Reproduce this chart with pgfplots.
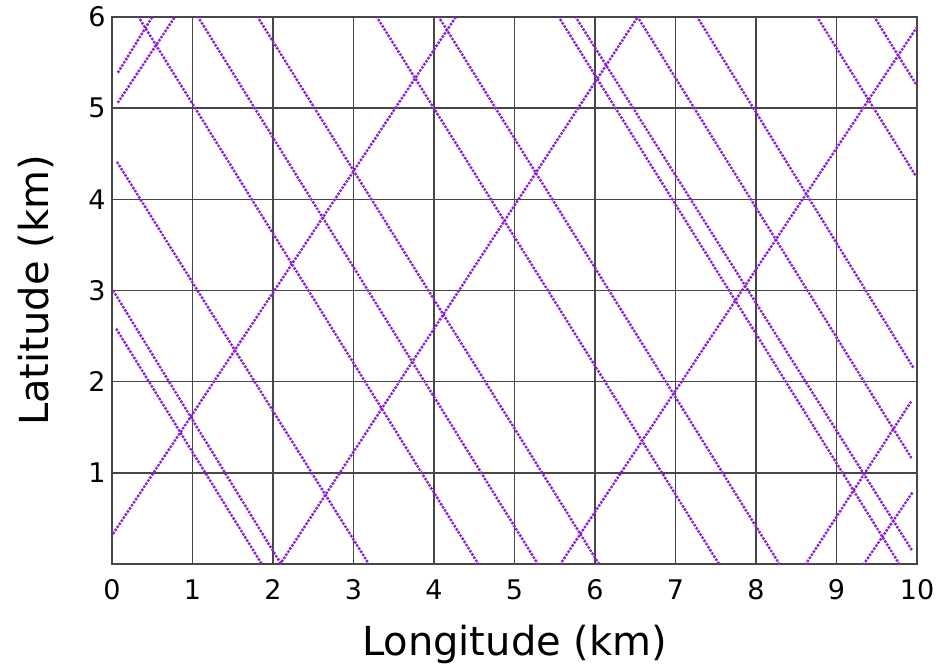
\documentclass[border=0pt]{standalone}
\usepackage{pgfplots}
\pgfplotsset{compat=1.18}
\usepackage{fontspec}
\setmainfont{DejaVu Sans}
\definecolor{track}{RGB}{140,34,212}
\definecolor{gridc}{RGB}{70,70,70}
\begin{document}
\begin{tikzpicture}
\path[use as bounding box] (-112pt,-100pt) rectangle (830pt,564pt);
\begin{axis}[
  at={(0pt,0pt)}, anchor=south west,
  scale only axis, width=805pt, height=547pt,
  xmin=0, xmax=10, ymin=0, ymax=6,
  xtick={0,1,2,3,4,5,6,7,8,9,10},
  ytick={1,2,3,4,5,6},
  grid=major,
  major grid style={gridc, line width=1.6pt},
  axis line style={gridc, line width=1.6pt},
  major tick length=0pt,
  /pgf/number format/assume math mode=true,
  tick label style={font=\fontsize{27}{30}\selectfont},
  xticklabel style={yshift=-12pt},
  yticklabel style={xshift=-3pt},
  xlabel={Longitude (km)},
  ylabel={Latitude (km)},
  label style={font=\fontsize{40}{48}\selectfont},
  xlabel style={at={(axis description cs:0.5,-0.1664)}, anchor=base},
  ylabel style={at={(axis description cs:-0.0795,0.5)}, anchor=base},
  trk/.style={track, line width=3.4pt, line cap=round, dash pattern=on 0pt off 3.7pt},
]
% descending tracks
\addplot[trk] coordinates {(0.07,4.40) (3.19,0)};
\addplot[trk] coordinates {(0.02,2.99) (2.10,0)};
\addplot[trk] coordinates {(0.06,2.57) (1.86,0)};
\addplot[trk] coordinates {(0.33,6) (4.55,0)};
\addplot[trk] coordinates {(1.07,6) (5.29,0)};
\addplot[trk] coordinates {(1.81,6) (6.05,0)};
\addplot[trk] coordinates {(3.29,6) (7.54,0)};
\addplot[trk] coordinates {(4.06,6) (8.29,0)};
\addplot[trk] coordinates {(5.55,6) (9.78,0)};
\addplot[trk] coordinates {(5.76,6) (9.93,0.16)};
\addplot[trk] coordinates {(6.53,6) (9.94,1.15)};
\addplot[trk] coordinates {(7.27,6) (9.95,2.16)};
\addplot[trk] coordinates {(8.76,6) (9.99,4.25)};
\addplot[trk] coordinates {(9.47,6) (9.99,5.26)};
% ascending tracks
\addplot[trk] coordinates {(0.02,0.34) (4.27,6)};
\addplot[trk] coordinates {(0.08,5.40) (0.50,6)};
\addplot[trk] coordinates {(0.08,5.07) (0.78,6)};
\addplot[trk] coordinates {(2.09,0) (6.53,6)};
\addplot[trk] coordinates {(5.57,0) (10,5.89)};
\addplot[trk] coordinates {(8.62,0) (9.94,1.80)};
\addplot[trk] coordinates {(9.34,0) (9.94,0.78)};
\end{axis}
\end{tikzpicture}
\end{document}
